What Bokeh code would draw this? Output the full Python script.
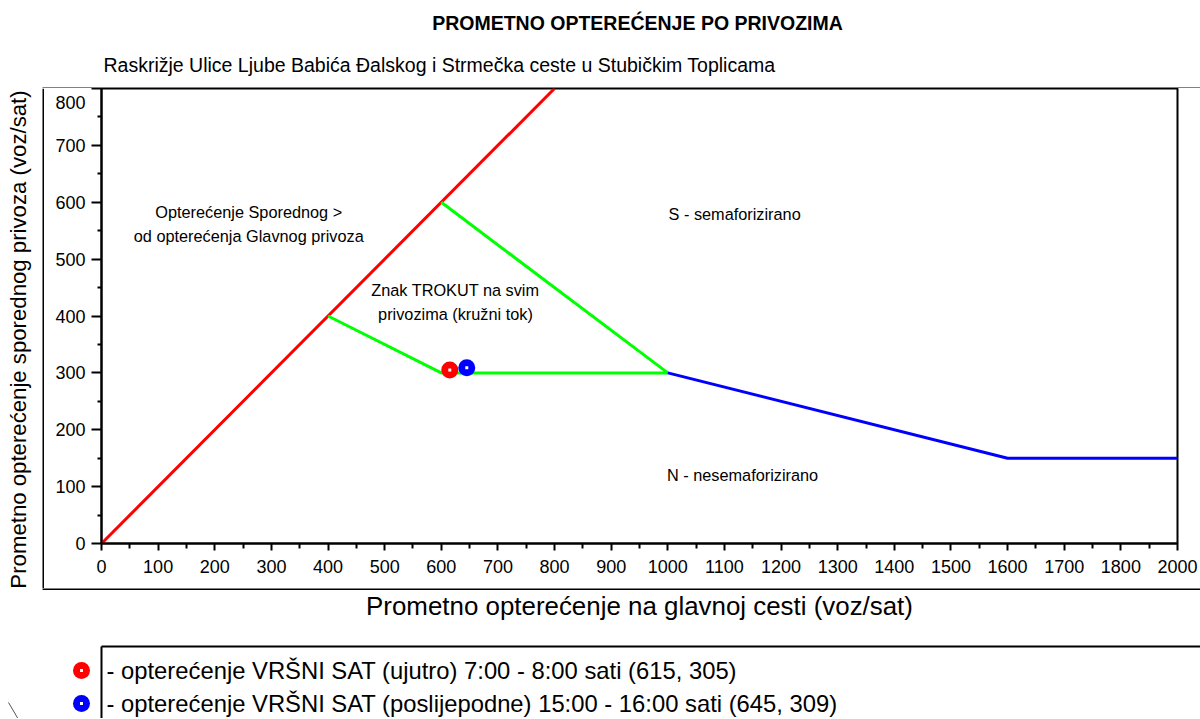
import math
from bokeh.plotting import figure
from bokeh.models import Range1d, FixedTicker, LinearAxis, ColumnDataSource
from bokeh.layouts import column, row
from bokeh.core.properties import value
from bokeh.embed import file_html
from bokeh.resources import INLINE

# ---------------- data ----------------
title_text = "PROMETNO OPTEREĆENJE PO PRIVOZIMA"
subtitle_text = "Raskrižje Ulice Ljube Babića Đalskog i Strmečka ceste u Stubičkim Toplicama"
x_label = "Prometno opterećenje na glavnoj cesti (voz/sat)"
y_label = "Prometno opterećenje sporednog privoza (voz/sat)"

x_tick_values = [0, 100, 200, 300, 400, 500, 600, 700, 800, 900, 1000,
                 1100, 1200, 1300, 1400, 1500, 1600, 1700, 1800, 1900]
x_tick_labels = ["0", "100", "200", "300", "400", "500", "600", "700", "800", "900", "1000",
                 "1100", "1200", "1300", "1400", "1500", "1600", "1700", "1800", "2000"]
y_tick_values = [0, 100, 200, 300, 400, 500, 600, 700, 800]
# the top label "800" sits just below the top edge in the reference
y_label_positions = [0, 100, 200, 300, 400, 500, 600, 700, 775]
y_tick_labels = ["0", "100", "200", "300", "400", "500", "600", "700", "800"]

red_x = [0, 800]
red_y = [0, 800]
green_x = [400, 600, 1000, 600]
green_y = [400, 300, 300, 600]
blue_x = [1000, 1600, 2000]
blue_y = [300, 150, 150]

point_x = [615, 645]
point_y = [305, 309]
point_colors = ["#ff0000", "#0000ff"]
legend_labels = ["- opterećenje VRŠNI SAT (ujutro) 7:00 - 8:00 sati (615, 305)",
                 "- opterećenje VRŠNI SAT (poslijepodne) 15:00 - 16:00 sati (645, 309)"]

note_texts = ["Opterećenje Sporednog >", "od opterećenja Glavnog privoza",
              "S - semaforizirano", "Znak TROKUT na svim", "privozima (kružni tok)",
              "N - nesemaforizirano"]
note_x = [260, 260, 1118, 625, 625, 1132]
note_y = [582, 540, 580, 445, 404, 121]

# ---------------- layout (page pixels) ----------------
FONT = "Liberation Sans"
PAGE_W = 1200
HEAD_H = 88
MID_H = 500
FOOT_H = 130
LEFT_W = 44
FRAME_L, FRAME_R, FRAME_T, FRAME_B = 101, 1177, 88, 543


def blank(w, h, x0, y0):
    """Helper figure whose data space equals page pixels (y downwards)."""
    f = figure(width=w, height=h, output_backend="svg", toolbar_location=None,
               x_range=Range1d(x0, x0 + w), y_range=Range1d(y0 + h, y0),
               x_axis_type=None, y_axis_type=None, min_border=0)
    f.outline_line_color = None
    f.background_fill_color = "white"
    f.border_fill_color = "white"
    f.frame_align = False
    return f


# ---- header: title + subtitle + top box line ----
head = blank(PAGE_W, HEAD_H, 0, 0)
head.text(x=[637], y=[22], text=[title_text], text_font=value(FONT),
          text_font_size="19.5px", text_font_style="bold", text_align="center",
          text_baseline="middle", text_color="black")
head.text(x=[103], y=[64], text=[subtitle_text], text_font=value(FONT),
          text_font_size="19.5px", text_align="left", text_baseline="middle",
          text_color="black")
head.segment(x0=[LEFT_W - 2], y0=[HEAD_H - 0.5], x1=[PAGE_W], y1=[HEAD_H - 0.5],
             line_color="black", line_width=1)

# ---- left strip: y title + left box line ----
left = blank(LEFT_W, MID_H, 0, HEAD_H)
left.text(x=[18], y=[339], text=[y_label], text_font=value(FONT),
          text_font_size="22.2px", text_align="center", text_baseline="middle",
          angle=math.pi / 2, text_color="black")
left.segment(x0=[LEFT_W - 1], y0=[HEAD_H], x1=[LEFT_W - 1], y1=[HEAD_H + MID_H],
             line_color="black", line_width=2)

# ---- main chart ----
p = figure(width=PAGE_W - LEFT_W, height=MID_H, output_backend="svg",
           toolbar_location=None,
           x_range=Range1d(0, 1900), y_range=Range1d(0, 800),
           min_border_left=FRAME_L - LEFT_W, min_border_right=PAGE_W - FRAME_R,
           min_border_top=FRAME_T - HEAD_H,
           min_border_bottom=HEAD_H + MID_H - FRAME_B)
p.frame_align = False
p.grid.visible = False
p.outline_line_color = "black"
p.outline_line_width = 2
p.background_fill_color = "white"
p.border_fill_color = "white"

xa = p.xaxis[0]
xa.ticker = FixedTicker(ticks=x_tick_values,
                        minor_ticks=[v + 50 for v in x_tick_values[:-1]])
xa.major_label_overrides = {v: s for v, s in zip(x_tick_values, x_tick_labels)}
ya = p.yaxis[0]
ya.ticker = FixedTicker(ticks=y_tick_values,
                        minor_ticks=[v + 50 for v in y_tick_values[:-1]])
ya.major_label_overrides = {v: "" for v in y_tick_values}
ya.major_label_standoff = 0
for ax in (xa, ya):
    ax.axis_line_color = "black"
    ax.axis_line_width = 2
    ax.major_tick_line_color = "black"
    ax.major_tick_line_width = 2
    ax.minor_tick_line_color = "black"
    ax.minor_tick_line_width = 2
    ax.major_tick_in = 0
    ax.minor_tick_in = 0
    ax.major_label_text_font = FONT
    ax.major_label_text_font_size = "18px"
    ax.major_label_text_color = "black"
xa.major_tick_out = 7
xa.minor_tick_out = 5
xa.major_label_standoff = 9
ya.major_tick_out = 10
ya.minor_tick_out = 4

ylab_axis = LinearAxis(ticker=FixedTicker(ticks=y_label_positions, minor_ticks=[]),
                       major_label_overrides={v: s for v, s in zip(y_label_positions, y_tick_labels)},
                       axis_line_color=None, major_tick_line_color=None,
                       minor_tick_line_color=None, major_tick_in=0, major_tick_out=0,
                       minor_tick_in=0, minor_tick_out=0, major_label_standoff=6,
                       major_label_text_font=FONT, major_label_text_font_size="18px",
                       major_label_text_color="black")
p.add_layout(ylab_axis, "left")

p.line(red_x, red_y, line_color="#ff0000", line_width=3)
p.line(green_x, green_y, line_color="#00ff00", line_width=3)
p.line(blue_x, blue_y, line_color="#0000ff", line_width=3)

src = ColumnDataSource(dict(x=note_x, y=note_y, t=note_texts))
p.text(x="x", y="y", text="t", source=src, text_font=value(FONT),
       text_font_size="16.3px", text_align="center", text_baseline="middle",
       text_color="black")

p.scatter(point_x, point_y, marker="circle", size=17, fill_color=point_colors,
          line_color=None)
p.scatter(point_x, point_y, marker="square", size=3, fill_color="white",
          line_color=None)

# ---- footer: bottom box line, x title, legend ----
FOOT_Y0 = HEAD_H + MID_H
foot = blank(PAGE_W, FOOT_H, 0, FOOT_Y0)
foot.segment(x0=[LEFT_W - 2], y0=[FOOT_Y0 + 0.5], x1=[PAGE_W], y1=[FOOT_Y0 + 0.5],
             line_color="black", line_width=2)
foot.text(x=[639], y=[605], text=[x_label], text_font=value(FONT),
          text_font_size="25.9px", text_align="center", text_baseline="middle",
          text_color="black")
LEG_L, LEG_T = 101, 646
foot.segment(x0=[LEG_L, LEG_L], y0=[LEG_T, LEG_T], x1=[PAGE_W, LEG_L],
             y1=[LEG_T, FOOT_Y0 + FOOT_H], line_color="black", line_width=2)
leg_rows_y = [670, 703]
foot.scatter([81, 81], leg_rows_y, marker="circle", size=17,
             fill_color=point_colors, line_color=None)
foot.scatter([81, 81], leg_rows_y, marker="square", size=3,
             fill_color="white", line_color=None)
foot.text(x=[106, 106], y=leg_rows_y, text=legend_labels, text_font=value(FONT),
          text_font_size="23.8px", text_align="left", text_baseline="middle",
          text_color="black")
foot.segment(x0=[8], y0=[702], x1=[18], y1=[719], line_color="#555555",
             line_width=1)

layout = column(head, row(left, p), foot)
open("out.html", "w").write(file_html(layout, INLINE))
